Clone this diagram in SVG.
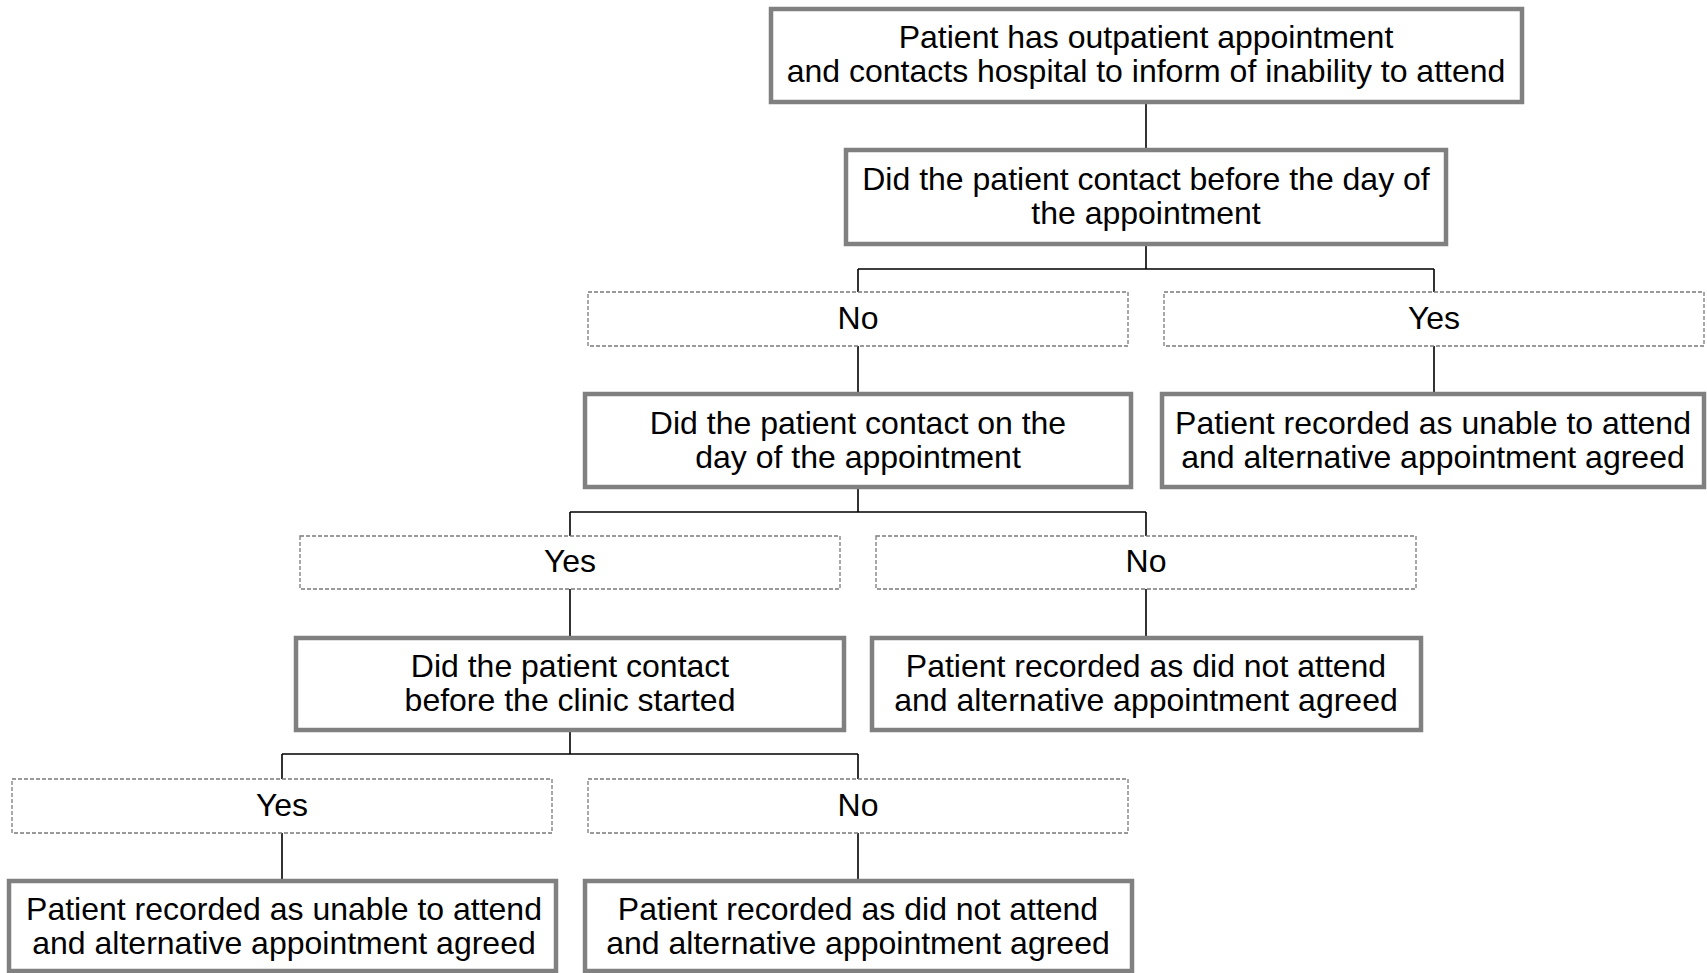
<svg xmlns="http://www.w3.org/2000/svg" width="1707" height="973" viewBox="0 0 1707 973">
<style>
.box{fill:#fff;stroke:#808080;stroke-width:4.5}
.lbl{fill:#fff;stroke:#7a7a7a;stroke-width:1.3;stroke-dasharray:4 2}
.t{font-family:"Liberation Sans",Arial,sans-serif;font-size:32px;fill:#000;text-anchor:middle}
.c{fill:none;stroke:#000;stroke-width:1.6}
</style>
<rect width="1707" height="973" fill="#fff"/>
<g id="connectors">
<path class="c" d="M1146 102V150"/>
<path class="c" d="M1146 244V269M858 269H1434M858 269V292M1434 269V292"/>
<path class="c" d="M858 346V394M1434 346V394"/>
<path class="c" d="M858 487V512M570 512H1146M570 512V536M1146 512V536"/>
<path class="c" d="M570 589V638M1146 589V638"/>
<path class="c" d="M570 730V754M282 754H858M282 754V779M858 754V779"/>
<path class="c" d="M282 833V881M858 833V881"/>
</g>
<g id="n1"><rect class="box" x="771" y="9" width="751" height="93"/><text class="t" x="1146" y="48">Patient has outpatient appointment</text><text class="t" x="1146" y="82">and contacts hospital to inform of inability to attend</text></g>
<g id="n2"><rect class="box" x="846" y="150" width="600" height="94"/><text class="t" x="1146" y="190">Did the patient contact before the day of</text><text class="t" x="1146" y="224">the appointment</text></g>
<g id="l1"><rect class="lbl" x="588" y="292" width="540" height="54"/><text class="t" x="858" y="329">No</text></g>
<g id="l2"><rect class="lbl" x="1164" y="292" width="540" height="54"/><text class="t" x="1434" y="329">Yes</text></g>
<g id="n3"><rect class="box" x="585" y="394" width="546" height="93"/><text class="t" x="858" y="434">Did the patient contact on the</text><text class="t" x="858" y="468">day of the appointment</text></g>
<g id="n4"><rect class="box" x="1162" y="394" width="542" height="93"/><text class="t" x="1433" y="434">Patient recorded as unable to attend</text><text class="t" x="1433" y="468">and alternative appointment agreed</text></g>
<g id="l3"><rect class="lbl" x="300" y="536" width="540" height="53"/><text class="t" x="570" y="572">Yes</text></g>
<g id="l4"><rect class="lbl" x="876" y="536" width="540" height="53"/><text class="t" x="1146" y="572">No</text></g>
<g id="n5"><rect class="box" x="296" y="638" width="548" height="92"/><text class="t" x="570" y="677">Did the patient contact</text><text class="t" x="570" y="711">before the clinic started</text></g>
<g id="n6"><rect class="box" x="872" y="638" width="549" height="92"/><text class="t" x="1146" y="677">Patient recorded as did not attend</text><text class="t" x="1146" y="711">and alternative appointment agreed</text></g>
<g id="l5"><rect class="lbl" x="12" y="779" width="540" height="54"/><text class="t" x="282" y="816">Yes</text></g>
<g id="l6"><rect class="lbl" x="588" y="779" width="540" height="54"/><text class="t" x="858" y="816">No</text></g>
<g id="n7"><rect class="box" x="9" y="881" width="547" height="90"/><text class="t" x="284" y="920">Patient recorded as unable to attend</text><text class="t" x="284" y="954">and alternative appointment agreed</text></g>
<g id="n8"><rect class="box" x="585" y="881" width="547" height="90"/><text class="t" x="858" y="920">Patient recorded as did not attend</text><text class="t" x="858" y="954">and alternative appointment agreed</text></g>
</svg>
